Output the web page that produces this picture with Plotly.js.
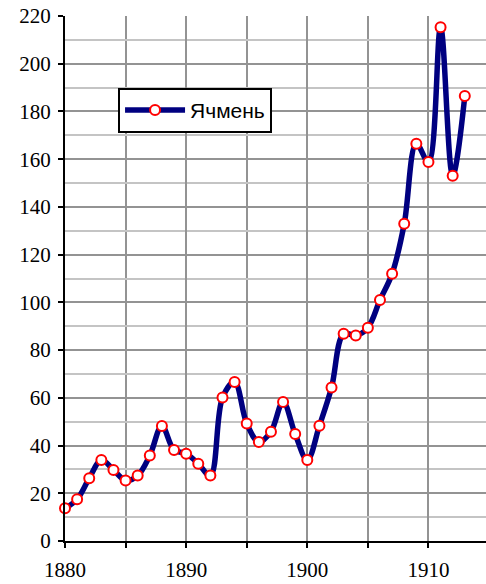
<!DOCTYPE html>
<html>
<head>
<meta charset="utf-8">
<script src="https://cdn.plot.ly/plotly-3.0.1.min.js"></script>
<style>
html,body{margin:0;padding:0;background:#fff;}
#chart{width:486px;height:584px;}
#chart .xtick text, #chart .ytick text { font-family: 'Liberation Serif', serif !important; }
#chart .legendtext { font-family: 'Liberation Sans', sans-serif !important; }
</style>
</head>
<body>
<div id="chart"></div>
<script>
const years = [1880,1881,1882,1883,1884,1885,1886,1887,1888,1889,1890,1891,1892,1893,1894,1895,1896,1897,1898,1899,1900,1901,1902,1903,1904,1905,1906,1907,1908,1909,1910,1911,1912,1913];
const barley = [13.7,17.5,26.3,33.9,29.8,25.4,27.4,35.8,48.2,38.1,36.6,32.4,27.4,60.1,66.6,49.2,41.5,45.8,58.3,44.8,33.9,48.3,64.3,86.8,86.1,89.4,101.0,112.0,132.9,166.5,158.8,215.3,153.1,186.5];
const seriesName = "Ячмень";
const xTicks = [1880,1890,1900,1910];
const yTicks = [0,20,40,60,80,100,120,140,160,180,200,220];

const serif = 'Liberation Serif';
const sans = 'Liberation Sans';

const trace = {
  x: years, y: barley, name: seriesName, type: 'scatter', mode: 'lines+markers',
  line: {color: '#000080', width: 5.5, shape: 'spline', smoothing: 1},
  marker: {size: 10, color: '#ffffff', line: {color: '#ff0000', width: 2}},
  cliponaxis: false
};
const layout = {
  width: 486, height: 584,
  margin: {l: 65, r: 0, t: 16, b: 43},
  paper_bgcolor: '#ffffff', plot_bgcolor: '#ffffff',
  font: {family: serif, size: 21, color: '#000'},
  showlegend: true,
  legend: {x: 0.126, y: 0.863, xanchor: 'left', yanchor: 'top', bgcolor: '#ffffff',
    bordercolor: '#000000', borderwidth: 2, itemwidth: 60,
    font: {family: sans, size: 21, color: '#000'}},
  xaxis: {
    range: [1880, 1914.75], tickvals: xTicks, ticktext: xTicks.map(String),
    ticks: 'outside', ticklen: 5, tickwidth: 2, tickcolor: '#000',
    ticklabelstandoff: 4,
    showline: true, linecolor: '#000', linewidth: 2,
    showgrid: true, gridcolor: '#939393', gridwidth: 2, zeroline: false,
    tickfont: {family: serif, size: 21, color: '#000'},
    minor: {dtick: 5, tick0: 1880, ticks: 'outside', ticklen: 5, tickwidth: 2, tickcolor: '#000', showgrid: true, gridcolor: '#939393', gridwidth: 2}
  },
  yaxis: {
    range: [0, 220], tickvals: yTicks, ticktext: yTicks.map(String),
    ticks: 'outside', ticklen: 5, tickwidth: 2, tickcolor: '#000',
    ticklabelstandoff: 3,
    showline: true, linecolor: '#000', linewidth: 2,
    showgrid: true, gridcolor: '#939393', gridwidth: 2, zeroline: false,
    tickfont: {family: serif, size: 21, color: '#000'},
    minor: {dtick: 10, tick0: 0, showgrid: true, gridcolor: '#c4c4c4', gridwidth: 2}
  }
};
Plotly.newPlot('chart', [trace], layout, {displayModeBar: false, staticPlot: true});
</script>
</body>
</html>
